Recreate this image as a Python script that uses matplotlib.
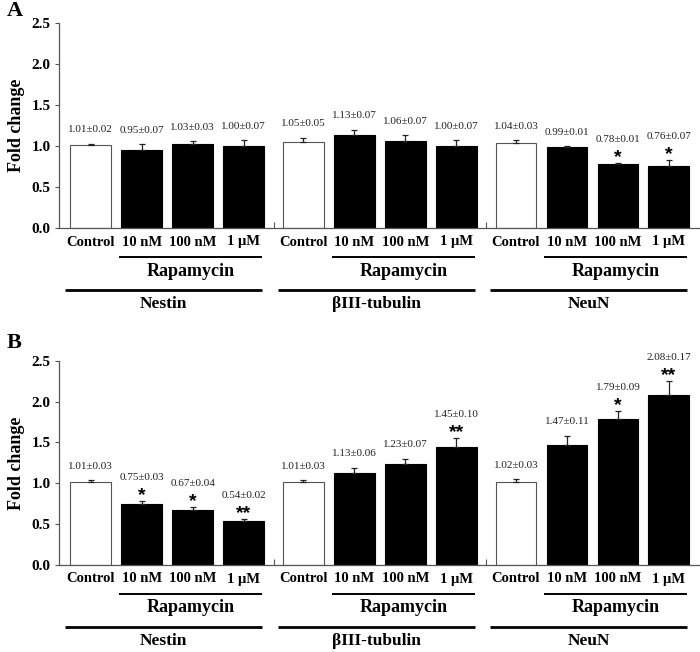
import matplotlib.pyplot as plt
import numpy as np

# Data: fold change (mean, SEM) per marker
markers = ['Nestin', '\u03b2III-tubulin', 'NeuN']
conditions = ['Control', '10 nM', '100 nM', '1 \u03bcM']
treatment = 'Rapamycin'

means_a = [[1.01, 0.95, 1.03, 1.00],
           [1.05, 1.13, 1.06, 1.00],
           [1.04, 0.99, 0.78, 0.76]]
errs_a = [[0.02, 0.07, 0.03, 0.07],
          [0.05, 0.07, 0.07, 0.07],
          [0.03, 0.01, 0.01, 0.07]]
stars_a = [['', '', '', ''],
           ['', '', '', ''],
           ['', '', '*', '*']]

means_b = [[1.01, 0.75, 0.67, 0.54],
           [1.01, 1.13, 1.23, 1.45],
           [1.02, 1.47, 1.79, 2.08]]
errs_b = [[0.03, 0.03, 0.04, 0.02],
          [0.03, 0.06, 0.07, 0.10],
          [0.03, 0.11, 0.09, 0.17]]
stars_b = [['', '*', '*', '**'],
           ['', '', '', '**'],
           ['', '', '*', '**']]

yticks = [0.0, 0.5, 1.0, 1.5, 2.0, 2.5]

SERIF = 'Liberation Serif'
GROUP_STEP = 4.17
BAR_W = 0.80
GREY = '#555555'


def draw_panel(ax, means, errs, stars):
    ax_h = ax.get_position().height * 652  # axis height in px
    trans = ax.get_xaxis_transform()

    for g, name in enumerate(markers):
        x = g * GROUP_STEP + np.arange(len(conditions))
        m = np.array(means[g])
        e = np.array(errs[g])
        colors = ['white'] + ['black'] * (len(conditions) - 1)
        ax.bar(x, m, width=BAR_W, color=colors, edgecolor=[GREY, 'black', 'black', 'black'],
               linewidth=0.8, zorder=2)
        ax.errorbar(x, m, yerr=[np.zeros_like(e), e], fmt='none', ecolor='#222222',
                    elinewidth=0.9, capsize=2.5, capthick=0.9, zorder=3)

        for xi, mi, ei, st in zip(x, m, e, stars[g]):
            top = mi + ei
            lab_off = 17 if st else 10
            ax.annotate(f'{mi:.2f}\u00b1{ei:.2f}', xy=(xi, top), xytext=(0, lab_off),
                        textcoords='offset points', ha='center', va='center',
                        fontsize=8, family=SERIF, color='#222222')
            if st:
                ax.annotate(st, xy=(xi, top), xytext=(0, 4), textcoords='offset points',
                            ha='center', va='center', fontsize=14, fontweight='bold',
                            family='Liberation Sans')

        # category labels under each bar
        for xi, c in zip(x, conditions):
            ax.text(xi, -14 / ax_h, c, transform=trans, ha='center', va='center',
                    fontsize=10.5, fontweight='bold', family=SERIF)

        # treatment bracket
        ax.plot([x[1] - 0.44, x[-1] + 0.36], [-29 / ax_h] * 2, transform=trans,
                color='black', lw=1.4, clip_on=False, solid_capstyle='butt')
        ax.text((x[1] - 0.44 + x[-1] + 0.36) / 2, -43 / ax_h, treatment, transform=trans,
                ha='center', va='center', fontsize=13, fontweight='bold', family=SERIF)

        # marker bracket
        ax.plot([x[0] - 0.5, x[-1] + 0.36], [-62 / ax_h] * 2, transform=trans,
                color='black', lw=2.0, clip_on=False, solid_capstyle='butt')
        ax.text((x[0] - 0.5 + x[-1] + 0.36) / 2, -76 / ax_h, name, transform=trans,
                ha='center', va='center', fontsize=12.5, fontweight='bold', family=SERIF)

    ax.set_xlim(-0.62, 2 * GROUP_STEP + 3 + 0.61)
    ax.set_ylim(0, 2.5)
    ax.set_yticks(yticks)
    ax.set_yticklabels([f'{t:.1f}' for t in yticks], fontweight='bold', family=SERIF,
                       fontsize=11)
    ax.set_xticks([])
    ax.set_xticks([g * GROUP_STEP + 3.59 for g in range(len(markers) - 1)], minor=True)
    ax.tick_params(axis='x', which='minor', direction='in', length=4, width=0.8, color=GREY)
    ax.tick_params(axis='y', direction='out', length=3, width=0.8, color=GREY, pad=3)
    for side in ['top', 'right']:
        ax.spines[side].set_visible(False)
    for side in ['left', 'bottom']:
        ax.spines[side].set_color(GREY)
        ax.spines[side].set_linewidth(0.9)


fig = plt.figure(figsize=(7.0, 6.52), dpi=100)
ax_a = fig.add_axes([59 / 700, 1 - 228 / 652, 641 / 700, 205 / 652])
ax_b = fig.add_axes([59 / 700, 1 - 565 / 652, 641 / 700, 204.3 / 652])

draw_panel(ax_a, means_a, errs_a, stars_a)
draw_panel(ax_b, means_b, errs_b, stars_b)

fig.text(7 / 700, 1 - 11 / 652, 'A', fontsize=16, fontweight='bold', family=SERIF,
         ha='left', va='center')
fig.text(7 / 700, 1 - 343 / 652, 'B', fontsize=16, fontweight='bold', family=SERIF,
         ha='left', va='center')
fig.text(17 / 700, 1 - 125.5 / 652, 'Fold change', rotation=90, fontsize=13,
         fontweight='bold', family=SERIF, ha='center', va='center')
fig.text(17 / 700, 1 - 463 / 652, 'Fold change', rotation=90, fontsize=13,
         fontweight='bold', family=SERIF, ha='center', va='center')

fig.savefig('out.png', dpi=100)
